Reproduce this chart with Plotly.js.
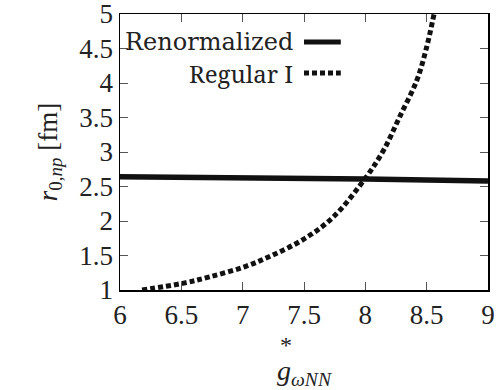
<!DOCTYPE html>
<html><head><meta charset="utf-8">
<script src="https://cdn.plot.ly/plotly-3.0.1.min.js"></script>
<style>body{margin:0;background:#fff}#c{width:504px;height:390px}</style>
</head><body><div id="c"></div>
<script>
const renormX = [6.0, 7.0, 8.0, 9.0];
const renormY = [2.64, 2.63, 2.61, 2.58];
const regX = [6.18, 6.52, 6.73, 7.02, 7.25, 7.51, 7.74, 8.0, 8.15, 8.28, 8.42, 8.50, 8.56];
const regY = [1.0, 1.10, 1.19, 1.34, 1.51, 1.75, 2.06, 2.62, 3.03, 3.51, 4.04, 4.52, 5.0];
const xTicks = [6, 6.5, 7, 7.5, 8, 8.5, 9];
const yTicks = [1, 1.5, 2, 2.5, 3, 3.5, 4, 4.5, 5];
const names = ['Renormalized', 'Regular I'];

function mkAxis(range, ticks, title, size, standoff, fam) {
  return {
    range: range, tickvals: ticks, ticktext: ticks.map(String),
    showgrid: false, zeroline: false, showline: true, linecolor: '#000', linewidth: 1.5,
    mirror: 'ticks', ticks: 'inside', ticklen: 8, tickcolor: '#555', tickwidth: 1,
    ticklabeloverflow: 'allow',
    tickfont: {family: fam, size: 27, color: '#222'},
    title: {text: title, font: {family: fam, size: size, color: '#222'}, standoff: standoff}
  };
}
const traces = [
  {x: renormX, y: renormY, mode: 'lines', name: names[0], line: {color: '#111', width: 5.5}, showlegend: false},
  {x: regX, y: regY, mode: 'lines', name: names[1], line: {color: '#111', width: 5, dash: '5px,3px', shape: 'spline'}, showlegend: false}
];
const layout = {
  width: 504, height: 390,
  margin: {l: 120, r: 16, t: 14, b: 100},
  paper_bgcolor: '#fff', plot_bgcolor: '#fff',
  xaxis: mkAxis([6, 9], xTicks, '<i>g</i><sub><i>ωNN</i></sub>', 28, 36, 'serif'),
  yaxis: mkAxis([1, 5], yTicks, '<i>r</i><sub>0,<i>np</i></sub> [fm]', 27, 14, 'Times New Roman'),
  annotations: [
    {xref: 'paper', yref: 'paper', x: 0.475, y: 0.899, xanchor: 'right', yanchor: 'middle', showarrow: false,
     text: names[0], font: {family: 'DejaVu Serif', size: 24, color: '#222'}},
    {xref: 'paper', yref: 'paper', x: 0.475, y: 0.786, xanchor: 'right', yanchor: 'middle', showarrow: false,
     text: names[1], font: {family: 'Noto Serif', size: 24, color: '#222'}},
    {xref: 'paper', yref: 'paper', x: 0.45, y: -0.2, xanchor: 'center', yanchor: 'middle', showarrow: false,
     text: '*', font: {family: 'serif', size: 24, color: '#222'}}
  ],
  shapes: [
    {type: 'line', xref: 'paper', yref: 'paper', x0: 0.5, x1: 0.6, y0: 0.899, y1: 0.899, line: {color: '#111', width: 5}},
    {type: 'line', xref: 'paper', yref: 'paper', x0: 0.5, x1: 0.6, y0: 0.786, y1: 0.786, line: {color: '#111', width: 5, dash: '5px,3px'}}
  ]
};
Plotly.newPlot('c', traces, layout, {staticPlot: true});
</script></body></html>
